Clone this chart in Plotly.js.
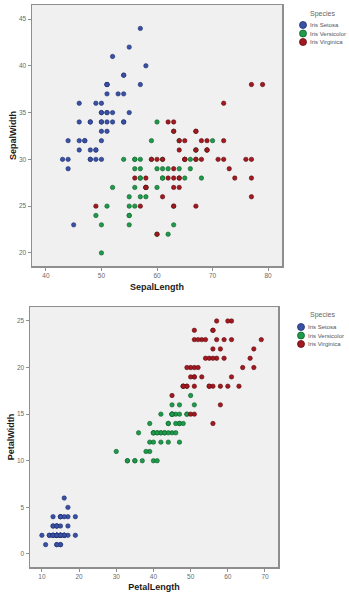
<!DOCTYPE html>
<html>
<head>
<meta charset="utf-8">
<script src="https://cdn.plot.ly/plotly-3.0.1.min.js"></script>
<style>
  html, body { margin: 0; padding: 0; background: #ffffff; }
  #chart { width: 349px; height: 597px; }
</style>
</head>
<body>
<div id="chart"></div>
<script>
// Iris measurements (mm), grouped by species
const species = ["Iris Setosa", "Iris Versicolor", "Iris Virginica"];
const speciesColors = ["#3a52a4", "#1e9a4a", "#a3191f"];
const speciesEdges = ["#1f2e70", "#0f5e2a", "#5e0c10"];

const sepalLength = [
  [51,49,47,46,50,54,46,50,44,49,54,48,48,43,58,57,54,51,57,51,54,51,46,51,48,50,50,52,52,47,48,54,52,55,49,50,55,49,44,51,50,45,44,50,51,48,51,46,53,50],
  [70,64,69,55,65,57,63,49,66,52,50,59,60,61,56,67,56,58,62,56,59,61,63,61,64,66,68,67,60,57,55,55,58,60,54,60,67,63,56,55,55,61,58,50,56,57,57,62,51,57],
  [63,58,71,63,65,76,49,73,67,72,65,64,68,57,58,64,65,77,77,60,69,56,77,63,67,72,62,61,64,72,74,79,64,63,61,77,63,64,60,69,67,69,58,68,67,67,63,65,62,59]
];
const sepalWidth = [
  [35,30,32,31,36,39,34,34,29,31,37,34,30,30,40,44,39,35,38,38,34,37,36,33,34,30,34,35,34,32,31,34,41,42,31,32,35,36,30,34,35,23,32,35,38,30,38,32,37,33],
  [32,32,31,23,28,28,33,24,29,27,20,30,22,29,29,31,30,27,22,25,32,28,25,28,29,30,28,30,29,26,24,24,27,27,30,34,31,23,30,25,26,30,26,23,27,30,29,29,25,28],
  [33,27,30,29,30,30,25,29,25,36,32,27,30,25,28,32,30,38,26,22,32,28,28,27,33,32,28,30,28,30,28,38,28,28,26,30,34,31,30,31,31,31,27,32,33,30,25,30,34,30]
];
const petalLength = [
  [14,14,13,15,14,17,14,15,14,15,15,16,14,11,12,15,13,14,17,15,17,15,10,17,19,16,16,15,14,16,16,15,15,14,15,12,13,14,13,15,13,13,13,16,19,14,16,14,15,14],
  [47,45,49,40,46,45,47,33,46,39,35,42,40,47,36,44,45,41,45,39,48,40,49,47,43,44,48,50,45,35,38,37,39,51,45,45,47,44,41,40,44,46,40,33,42,42,42,43,30,41],
  [60,51,59,56,58,66,45,63,58,61,51,53,55,50,51,53,55,67,69,50,57,49,67,49,57,60,48,49,56,58,61,64,56,51,56,61,56,55,48,54,56,51,51,59,57,52,50,52,54,51]
];
const petalWidth = [
  [2,2,2,2,2,4,3,2,2,1,2,2,1,1,2,4,4,3,3,3,2,4,2,5,2,2,4,2,2,2,2,4,1,2,2,2,2,1,2,2,3,3,2,6,4,3,2,2,2,2],
  [14,15,15,13,15,13,16,10,13,14,10,15,10,14,13,14,15,10,15,11,18,13,15,12,13,14,14,17,15,10,11,10,12,16,15,16,15,13,13,13,12,14,12,10,13,12,13,13,11,13],
  [25,19,21,18,22,21,17,18,18,25,20,19,21,20,24,23,18,22,23,15,23,20,20,18,21,18,18,18,21,16,19,20,22,15,14,23,24,18,18,21,24,23,19,23,25,23,19,20,23,18]
];

const panels = [
  { x: sepalLength, y: sepalWidth, xa: "x", ya: "y" },
  { x: petalLength, y: petalWidth, xa: "x2", ya: "y2" }
];

const traces = [];
panels.forEach(p => {
  species.forEach((name, i) => {
    traces.push({
      type: "scatter",
      mode: "markers",
      name: name,
      x: p.x[i],
      y: p.y[i],
      xaxis: p.xa,
      yaxis: p.ya,
      showlegend: false,
      hoverinfo: "x+y+name",
      marker: {
        size: 4.4,
        color: speciesColors[i],
        line: { width: 0.6, color: speciesEdges[i] }
      }
    });
  });
});

const W = 349, H = 597;
const px = v => v / W;          // horizontal pixel -> paper
const py = v => 1 - v / H;      // vertical pixel (from top) -> paper

const tickFont = { family: "Liberation Sans, Arial, sans-serif", size: 6.5, color: "#6a6a6a" };
const titleFont = { family: "Liberation Sans, Arial, sans-serif", size: 9, color: "#1a1a1a", weight: "bold" };

function axis(extra) {
  return Object.assign({
    showgrid: false,
    zeroline: false,
    showline: true,
    mirror: true,
    linecolor: "#8e8e8e",
    linewidth: 1.5,
    ticks: "outside",
    ticklen: 3,
    tickwidth: 1,
    tickcolor: "#8e8e8e",
    tickfont: tickFont,
    fixedrange: true
  }, extra);
}

const layout = {
  width: W,
  height: H,
  margin: { l: 0, r: 0, t: 0, b: 0 },
  paper_bgcolor: "#ffffff",
  plot_bgcolor: "#f0f0f0",
  showlegend: false,
  xaxis: axis({
    domain: [px(32), px(282)], anchor: "y",
    range: [37.5, 82.5], tickvals: [40, 50, 60, 70, 80],
    title: { text: "SepalLength", font: titleFont, standoff: 5 }
  }),
  yaxis: axis({
    domain: [py(266), py(5)], anchor: "x",
    range: [18.6, 46.5], tickvals: [20, 25, 30, 35, 40, 45],
    title: { text: "SepalWidth", font: titleFont, standoff: 1 }
  }),
  xaxis2: axis({
    domain: [px(30), px(278)], anchor: "y2",
    range: [6.8, 73.5], tickvals: [10, 20, 30, 40, 50, 60, 70],
    title: { text: "PetalLength", font: titleFont, standoff: 4 }
  }),
  yaxis2: axis({
    domain: [py(567), py(307)], anchor: "x2",
    range: [-1.4, 26.5], tickvals: [0, 5, 10, 15, 20, 25],
    title: { text: "PetalWidth", font: titleFont, standoff: 1 }
  }),
  annotations: [],
  shapes: []
};

// Species keys beside each panel
const keys = [
  { titleY: 14, rows: [25, 33.5, 42], dotX: 303, textX: 308 },
  { titleY: 315, rows: [327, 335.5, 344], dotX: 301, textX: 306 }
];
const keyFont = { family: "Liberation Sans, Arial, sans-serif", size: 6, color: "#555555" };
keys.forEach(k => {
  layout.annotations.push({
    xref: "paper", yref: "paper", x: px(322), y: py(k.titleY),
    text: "Species", showarrow: false, xanchor: "center", yanchor: "middle",
    font: { family: "Liberation Sans, Arial, sans-serif", size: 7, color: "#666666" }
  });
  species.forEach((name, i) => {
    layout.shapes.push({
      type: "circle", xref: "paper", yref: "paper",
      xsizemode: "pixel", ysizemode: "pixel",
      xanchor: px(k.dotX), yanchor: py(k.rows[i]),
      x0: -3.5, x1: 3.5, y0: -3.5, y1: 3.5,
      fillcolor: speciesColors[i], line: { width: 0.8, color: speciesEdges[i] }
    });
    layout.annotations.push({
      xref: "paper", yref: "paper", x: px(k.textX), y: py(k.rows[i]),
      text: name, showarrow: false, xanchor: "left", yanchor: "middle",
      font: keyFont
    });
  });
});

Plotly.newPlot("chart", traces, layout, { staticPlot: true, displayModeBar: false });
</script>
</body>
</html>
